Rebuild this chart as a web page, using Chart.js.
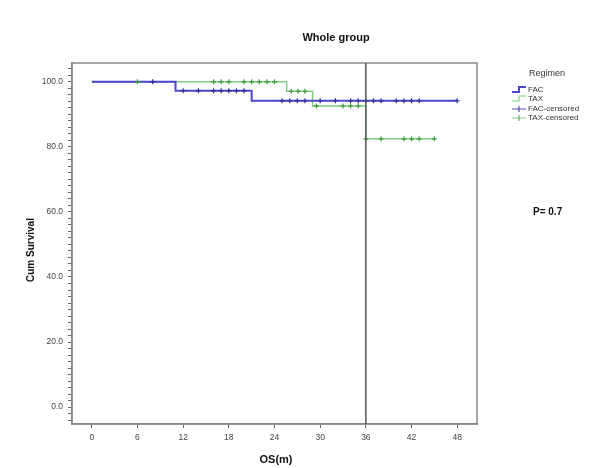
<!DOCTYPE html>
<html>
<head>
<meta charset="utf-8">
<script src="https://cdn.jsdelivr.net/npm/chart.js@4.4.0/dist/chart.umd.min.js"></script>
<style>
  body { margin: 0; background: #fff; }
  canvas { display: block; }
</style>
</head>
<body>
<canvas id="km" width="606" height="468"></canvas>
<script>
"use strict";

// Kaplan-Meier steps (time in months, cumulative survival %)
const facTimes = [0, 11, 21, 48];
const facSurv = [100, 97.3, 94.2, 94.2];
const taxTimes = [0, 25.6, 29, 36, 45];
const taxSurv = [100, 97.1, 92.6, 82.5, 82.5];

// censored observations
const facCensored = [8, 12, 14, 16, 17, 18, 19, 20, 25, 26, 27, 28, 30, 32, 34, 35, 36, 37, 38, 40, 41, 42, 43, 48];
const taxCensored = [6, 16, 17, 18, 20, 21, 22, 23, 24, 26.2, 27.1, 28, 29.5, 33, 34, 35, 36, 38, 41, 42, 43, 45];

const xTicks = [0, 6, 12, 18, 24, 30, 36, 42, 48];
const yTicks = [0, 20, 40, 60, 80, 100];
const refLineX = 36;
const pValueText = "P= 0.7";

const FAC_LINE = "#4b45d0";
const FAC_MARK = "#2e2e96";
const TAX_LINE = "#7fcf7f";
const TAX_MARK = "#3f9a3f";
const FONT = "'Liberation Sans', Arial, sans-serif";

function survAt(times, surv, t) {
  let v = surv[0];
  for (let i = 0; i < times.length; i++) {
    if (times[i] <= t) v = surv[i];
  }
  return v;
}

const facSteps = facTimes.map((t, i) => ({ x: t, y: facSurv[i] }));
const taxSteps = taxTimes.map((t, i) => ({ x: t, y: taxSurv[i] }));
const facMarks = facCensored.map(t => ({ x: t, y: survAt(facTimes, facSurv, t) }));
const taxMarks = taxCensored.map(t => ({ x: t, y: survAt(taxTimes, taxSurv, t) }));

// minor ticks on y every 2
const yMinor = [];
for (let v = -4; v <= 104; v += 2) yMinor.push(v);

const decorPlugin = {
  id: "decor",
  afterDraw(chart) {
    const c = chart.ctx;
    const a = chart.chartArea;
    const xs = chart.scales.x;
    c.save();
    // frame
    c.strokeStyle = "#8a8a8a";
    c.lineWidth = 1.5;
    c.strokeRect(a.left, a.top, a.right - a.left, a.bottom - a.top);
    // reference line
    const rx = xs.getPixelForValue(refLineX);
    c.strokeStyle = "#555";
    c.lineWidth = 1.5;
    c.beginPath();
    c.moveTo(rx, a.top);
    c.lineTo(rx, a.bottom);
    c.stroke();

    c.fillStyle = "#111";
    c.textBaseline = "middle";
    // title
    c.font = "bold 11px " + FONT;
    c.textAlign = "center";
    c.fillText("Whole group", 336, 38);
    // axis titles
    c.fillText("OS(m)", 276, 460);
    c.save();
    c.translate(31, 250);
    c.rotate(-Math.PI / 2);
    c.font = "bold 10px " + FONT;
    c.fillText("Cum Survival", 0, 0);
    c.restore();
    // p value
    c.font = "bold 10px " + FONT;
    c.textAlign = "left";
    c.fillText(pValueText, 533, 212);

    // legend
    c.font = "9px " + FONT;
    c.fillStyle = "#333";
    c.fillText("Regimen", 529, 74);
    c.font = "8px " + FONT;
    const lx = 512, tx = 528;
    const rows = [
      { label: "FAC", y: 90 },
      { label: "TAX", y: 99 },
      { label: "FAC-censored", y: 109 },
      { label: "TAX-censored", y: 118 }
    ];
    rows.forEach(r => c.fillText(r.label, tx, r.y));
    // step icons
    c.lineWidth = 2;
    c.strokeStyle = FAC_LINE;
    c.beginPath();
    c.moveTo(lx, rows[0].y + 2);
    c.lineTo(lx + 7, rows[0].y + 2);
    c.lineTo(lx + 7, rows[0].y - 3);
    c.lineTo(lx + 14, rows[0].y - 3);
    c.stroke();
    c.lineWidth = 1.2;
    c.strokeStyle = TAX_LINE;
    c.beginPath();
    c.moveTo(lx, rows[1].y + 2);
    c.lineTo(lx + 7, rows[1].y + 2);
    c.lineTo(lx + 7, rows[1].y - 3);
    c.lineTo(lx + 14, rows[1].y - 3);
    c.stroke();
    // censor icons
    [[rows[2].y, FAC_LINE, FAC_MARK], [rows[3].y, TAX_LINE, TAX_MARK]].forEach(([y, lc, mc]) => {
      c.strokeStyle = lc;
      c.lineWidth = 1;
      c.beginPath();
      c.moveTo(lx, y);
      c.lineTo(lx + 14, y);
      c.stroke();
      c.strokeStyle = mc;
      c.beginPath();
      c.moveTo(lx + 7, y - 3);
      c.lineTo(lx + 7, y + 3);
      c.stroke();
    });
    c.restore();
  }
};

const ctx = document.getElementById("km").getContext("2d");
new Chart(ctx, {
  type: "line",
  data: {
    datasets: [
      {
        label: "FAC-censored",
        data: facMarks,
        showLine: false,
        pointStyle: "cross",
        pointRadius: 2.5,
        borderColor: FAC_MARK,
        borderWidth: 1.2,
        order: 0
      },
      {
        label: "TAX-censored",
        data: taxMarks,
        showLine: false,
        pointStyle: "cross",
        pointRadius: 2.5,
        borderColor: TAX_MARK,
        borderWidth: 1.2,
        order: 1
      },
      {
        label: "FAC",
        data: facSteps,
        stepped: "before",
        borderColor: FAC_LINE,
        borderWidth: 2,
        pointRadius: 0,
        fill: false,
        order: 2
      },
      {
        label: "TAX",
        data: taxSteps,
        stepped: "before",
        borderColor: TAX_LINE,
        borderWidth: 1.5,
        pointRadius: 0,
        fill: false,
        order: 3
      }
    ]
  },
  options: {
    responsive: false,
    animation: false,
    layout: { padding: { left: 0, top: 63, right: 129, bottom: 0 } },
    scales: {
      x: {
        type: "linear",
        min: -2.6,
        max: 50.6,
        afterFit(s) { s.height = 44; },
        afterBuildTicks(s) { s.ticks = xTicks.map(v => ({ value: v })); },
        grid: { drawOnChartArea: false, drawTicks: true, tickLength: 4, tickColor: "#666" },
        border: { display: true, color: "#777", width: 1.5 },
        ticks: {
          padding: 5,
          maxRotation: 0,
          autoSkip: false,
          color: "#444",
          font: { family: FONT, size: 8.5 },
          callback: v => String(v)
        }
      },
      y: {
        type: "linear",
        min: -5.2,
        max: 105.8,
        afterFit(s) { s.width = 72; },
        afterBuildTicks(s) { s.ticks = yMinor.map(v => ({ value: v })); },
        grid: { drawOnChartArea: false, drawTicks: true, tickLength: 4, tickColor: "#666" },
        border: { display: true, color: "#777", width: 1.5 },
        ticks: {
          padding: 5,
          autoSkip: false,
          color: "#444",
          font: { family: FONT, size: 8.5 },
          callback: v => (yTicks.includes(v) ? v.toFixed(1) : "")
        }
      }
    },
    plugins: {
      legend: { display: false },
      tooltip: { enabled: false },
      title: { display: false }
    }
  },
  plugins: [decorPlugin]
});
</script>
</body>
</html>
